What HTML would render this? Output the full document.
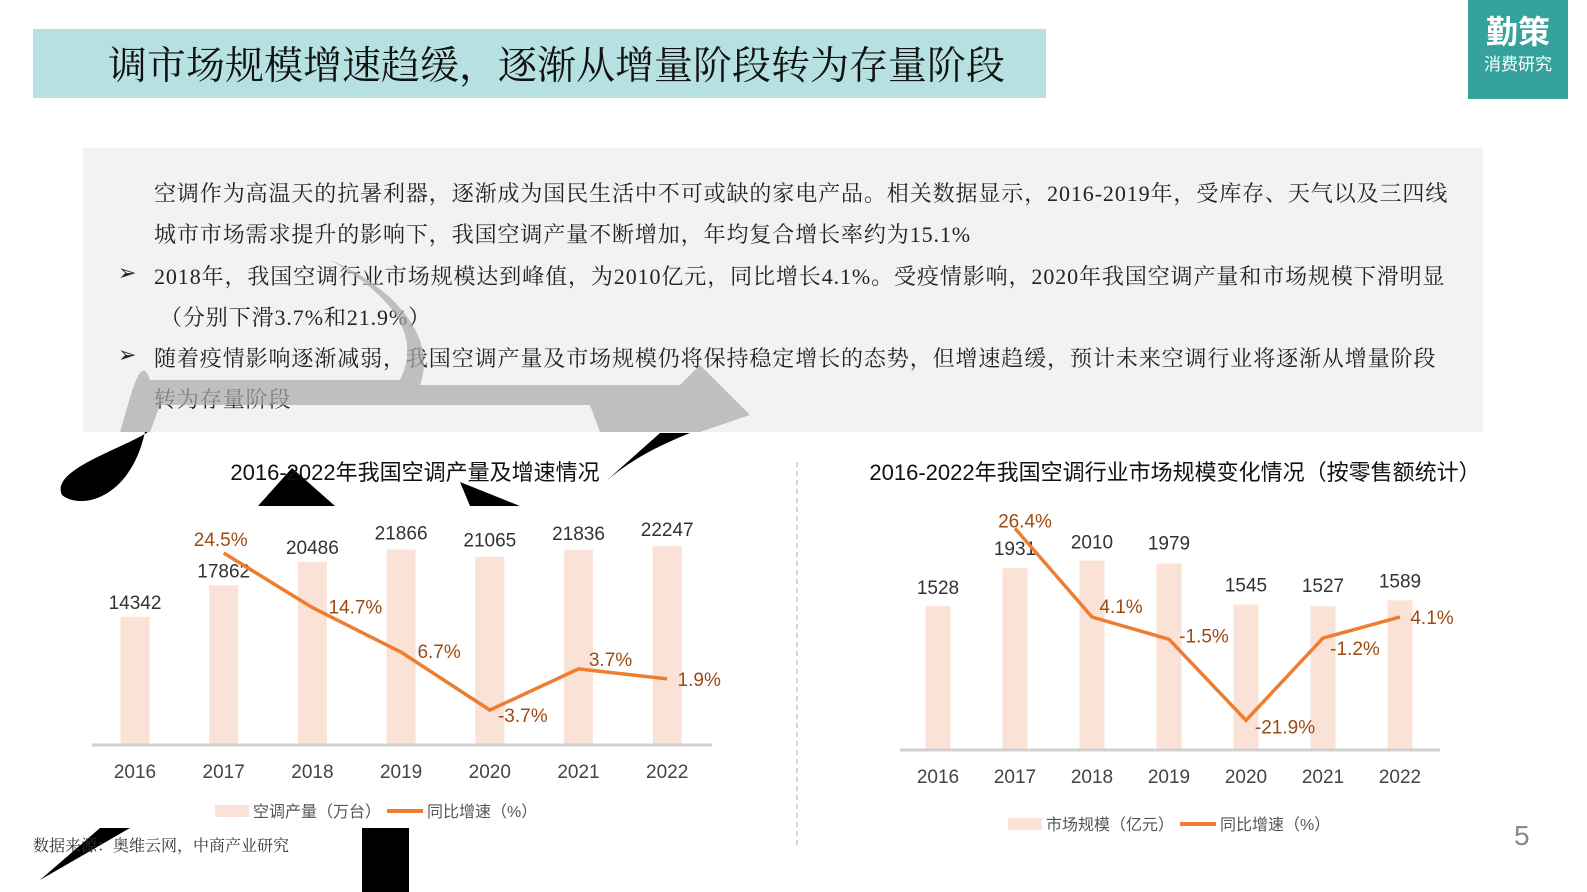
<!DOCTYPE html>
<html><head><meta charset="utf-8"><style>
body{margin:0;width:1587px;height:892px;background:#fff;position:relative;overflow:hidden;font-family:"Liberation Sans","Noto Sans CJK SC",sans-serif}
.abs{position:absolute}
.para{font-family:"Liberation Serif","Noto Serif CJK SC",serif;font-size:22px;letter-spacing:0.9px;color:#222;white-space:nowrap}
</style></head><body>
<div class="abs" style="left:33px;top:29px;width:1013px;height:69px;background:#b6e0e1"></div>
<div class="abs" style="left:108px;top:35px;font-size:39px;color:#111;font-family:'Liberation Serif','Noto Serif CJK SC',serif;white-space:nowrap">调市场规模增速趋缓，逐渐从增量阶段转为存量阶段</div>
<div class="abs" style="left:1468px;top:0;width:100px;height:99px;background:#35a39c;color:#fff;text-align:center">
<div style="font-size:32px;font-weight:bold;margin-top:14px;line-height:36px">勤策</div><div style="font-size:17px">消费研究</div></div>
<div class="abs" style="left:83px;top:148px;width:1400px;height:284px;background:#f2f2f2"></div>
<div class="abs para" style="left:154px;top:177px">空调作为高温天的抗暑利器，逐渐成为国民生活中不可或缺的家电产品。相关数据显示，2016-2019年，受库存、天气以及三四线</div>
<div class="abs para" style="left:154px;top:218px">城市市场需求提升的影响下，我国空调产量不断增加，年均复合增长率约为15.1%</div>
<div class="abs para" style="left:118px;top:260px">➢</div>
<div class="abs para" style="left:154px;top:260px">2018年，我国空调行业市场规模达到峰值，为2010亿元，同比增长4.1%。受疫情影响，2020年我国空调产量和市场规模下滑明显</div>
<div class="abs para" style="left:160px;top:301px">（分别下滑3.7%和21.9%）</div>
<div class="abs para" style="left:118px;top:342px">➢</div>
<div class="abs para" style="left:154px;top:342px">随着疫情影响逐渐减弱，我国空调产量及市场规模仍将保持稳定增长的态势，但增速趋缓，预计未来空调行业将逐渐从增量阶段</div>
<div class="abs para" style="left:154px;top:383px">转为存量阶段</div>

<svg class="abs" style="left:0;top:0" width="1587" height="892">
<path d="M120,432 C130,400 140,350 150,380 L400,380 C420,340 400,300 330,260 C380,280 440,330 420,385 L680,385 L700,365 L750,415 L700,432 L600,432 L590,405 L160,405 L150,432 Z" fill="#aaa" opacity="0.7"/>
<path d="M148,432 C120,450 50,470 62,495 C80,510 130,500 145,432Z M605,482 C630,460 660,445 690,433 L660,433 Z M258,506 L292,468 L335,506Z M460,482 L520,506 L470,506Z M40,880 L130,828 L100,828 L40,880Z M362,828 L409,828 L409,892 L362,892Z" fill="#000"/>
<line x1="797" y1="462" x2="797" y2="848" stroke="#c8a890" stroke-dasharray="5,4"/>
<g id="c1"></g><g id="c2"></g>
</svg>
<div class="abs" style="left:33px;top:833px;font-size:16px;color:#333;font-family:'Liberation Serif','Noto Serif CJK SC',serif">数据来源：奥维云网，中商产业研究</div>
<div class="abs" style="left:1514px;top:820px;font-size:28px;color:#888">5</div>
<script>
const years=["2016","2017","2018","2019","2020","2021","2022"];
const prod=[14342,17862,20486,21866,21065,21836,22247];
const prodGrowth=[null,24.5,14.7,6.7,-3.7,3.7,1.9];
const market=[1528,1931,2010,1979,1545,1527,1589];
const marketGrowth=[null,26.4,4.1,-1.5,-21.9,-1.2,4.1];
const NS="http://www.w3.org/2000/svg";
function mk(p,t,a){const e=document.createElementNS(NS,t);for(const k in a)e.setAttribute(k,a[k]);p.appendChild(e);return e;}
function draw(g,cfg){
 const {x0,dx,base,bs,bw,gz,gs,vals,gr,title,tx,ty,axL,axR,leg,lx,ly,lbl}=cfg;
 const X=i=>x0+i*dx, Yb=v=>base-v*bs, Yl=v=>gz-v*gs;
 let t=mk(g,'text',{x:tx,y:ty,'font-size':22,fill:'#111','text-anchor':'middle'});t.textContent=title;
 
 
 vals.forEach((v,i)=>{
  const r=mk(g,'rect',{x:X(i)-bw/2,y:Yb(v),width:bw,height:base-Yb(v),fill:'#fae3d6'});
  
  
  const l=mk(g,'text',{x:X(i)+lbl[i][0],y:Yb(v)+lbl[i][1],'font-size':19,fill:'#333','text-anchor':'middle'});l.textContent=v;
  
  
  const yl=mk(g,'text',{x:X(i),y:base+33,'font-size':19,fill:'#444','text-anchor':'middle'});yl.textContent=years[i];
  
  
 });
 const ax=mk(g,'line',{x1:axL,x2:axR,y1:base,y2:base,stroke:'#d0d0d0','stroke-width':3});
 
 
 let pts=[];gr.forEach((v,i)=>{if(v!==null)pts.push(X(i)+','+Yl(v));});
 const pl=mk(g,'polyline',{points:pts.join(' '),fill:'none',stroke:'#ee7d31','stroke-width':3.5});
 
 
 gr.forEach((v,i)=>{if(v===null)return;
  const o=cfg.glbl[i];
  const l=mk(g,'text',{x:X(i)+o[0],y:Yl(v)+o[1],'font-size':19,fill:'#9c4a14','text-anchor':'middle'});l.textContent=v.toFixed(1)+'%';
  
  
 });
 const lr=mk(g,'rect',{x:lx,y:ly-10,width:34,height:12,fill:'#fae3d6'});
 
 
 let lt=mk(g,'text',{x:lx+38,y:ly+2,'font-size':16,fill:'#555'});lt.textContent=leg[0];
 
 
 const ll=mk(g,'line',{x1:lx+leg[2],x2:lx+leg[2]+36,y1:ly-4,y2:ly-4,stroke:'#ee7d31','stroke-width':4});
 
 
 lt=mk(g,'text',{x:lx+leg[2]+40,y:ly+2,'font-size':16,fill:'#555'});lt.textContent=leg[1];
 
 
}
draw(document.getElementById('c1'),{x0:135,dx:88.7,base:745,bs:0.00894,bw:29,gz:689.5,gs:5.57,vals:prod,gr:prodGrowth,
 title:'2016-2022年我国空调产量及增速情况',tx:415,ty:480,axL:92,axR:712,leg:['空调产量（万台）','同比增速（%）',172],lx:215,ly:815,
 lbl:[[0,-8],[0,-8],[0,-8],[0,-10],[0,-10],[0,-10],[0,-10]],
 glbl:[null,[-3,-7],[43,6],[38,6],[33,12],[32,-3],[32,7]]});
draw(document.getElementById('c2'),{x0:938,dx:77,base:750,bs:0.0942,bw:25,gz:633.3,gs:3.975,vals:market,gr:marketGrowth,
 title:'2016-2022年我国空调行业市场规模变化情况（按零售额统计）',tx:1175,ty:480,axL:900,axR:1440,leg:['市场规模（亿元）','同比增速（%）',172],lx:1008,ly:828,
 lbl:[[0,-12],[0,-13],[0,-12],[0,-14],[0,-13],[0,-14],[0,-13]],
 glbl:[null,[10,-1],[29,-4],[35,3],[39,13],[32,17],[32,7]]});
</script>
</body></html>
